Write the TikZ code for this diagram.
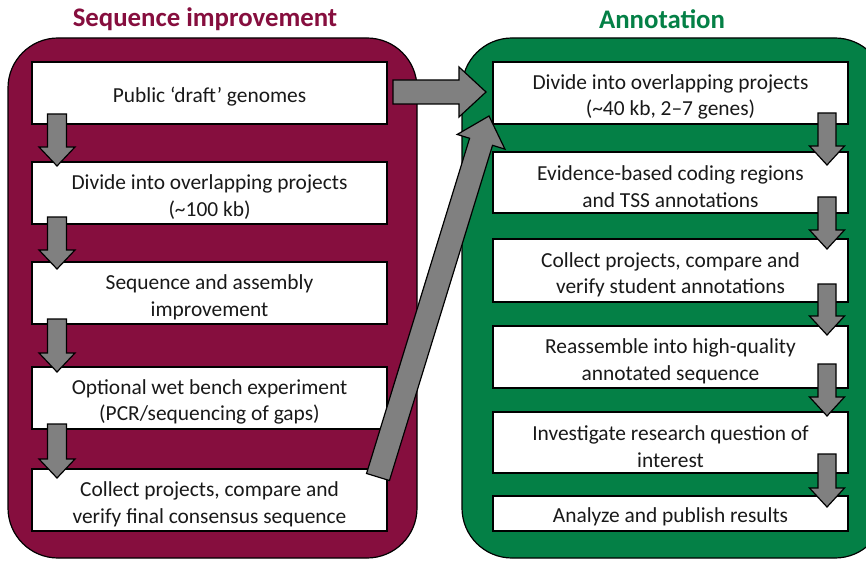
\documentclass[tikz,border=0pt]{standalone}
\usepackage{fontspec}
\setmainfont{Carlito}
\usetikzlibrary{calc}

\definecolor{seqred}{RGB}{134,14,62}
\definecolor{annogreen}{RGB}{4,128,70}
\definecolor{arrowgray}{RGB}{128,128,128}

% extra height on the first text line, to sit two-line labels a little lower
\newcommand\toproom{\rule{0pt}{23pt}}

% block arrow between two points: #1 from, #2 to, #3 half shaft width,
% #4 half head width, #5 head length
\newcommand\blockarrow[5]{%
  \coordinate (bahead) at ($(#2)!#5!(#1)$);
  \draw[blockarrow] ($(#1)!#3!90:(#2)$) -- ($(bahead)!#3!90:(#2)$)
    -- ($(bahead)!#4!90:(#2)$) -- (#2) -- ($(bahead)!#4!-90:(#2)$)
    -- ($(bahead)!#3!-90:(#2)$) -- ($(#1)!#3!-90:(#2)$) -- cycle;
}

\begin{document}
\begin{tikzpicture}[x=1pt,y=1pt,
  panel/.style={draw=black,line width=1.2pt,rounded corners=50pt},
  stepbox/.style={draw=black,fill=white,line width=2pt,minimum width=355pt,
    inner sep=0pt,align=center,font=\fontsize{21.4}{26.5}\selectfont,text=black!90},
  oneline/.style={execute at begin node={\rule{0pt}{22pt}}},
  paneltitle/.style={font=\fontsize{26.8}{30}\selectfont\bfseries},
  blockarrow/.style={draw=black,fill=arrowgray,line width=1.2pt,line join=miter}]
\useasboundingbox (0,0) rectangle (866,563);
\clip (0,0) rectangle (866,563);

% panels
\draw[panel,fill=seqred] (8,5) rectangle (417,525);
\draw[panel,fill=annogreen] (462,5) rectangle (885,525);
\node[paneltitle,text=seqred] (t1) at (205,544) {Sequence improvement};
\node[paneltitle,text=annogreen] (t2) at (662,544) {Annotation};

% sequence improvement steps
\node[stepbox,oneline,minimum height=62pt] (L1) at (209.5,470) {Public ‘draft’ genomes};
\node[stepbox,minimum height=62pt] (L2) at (209.5,370) {\toproom Divide into overlapping projects\\(\textasciitilde100 kb)};
\node[stepbox,minimum height=62pt] (L3) at (209.5,270) {\toproom Sequence and assembly\\improvement};
\node[stepbox,minimum height=62pt] (L4) at (209.5,165) {\toproom Optional wet bench experiment\\(PCR/sequencing of gaps)};
\node[stepbox,minimum height=62pt] (L5) at (209.5,63) {\toproom Collect projects, compare and\\verify final consensus sequence};

% annotation steps
\node[stepbox,minimum height=62pt] (R1) at (670.5,470) {\toproom Divide into overlapping projects\\(\textasciitilde40 kb, 2–7 genes)};
\node[stepbox,minimum height=61pt] (R2) at (670.5,380.5) {\toproom Evidence-based coding regions\\and TSS annotations};
\node[stepbox,minimum height=63pt] (R3) at (670.5,292.5) {\toproom Collect projects, compare and\\verify student annotations};
\node[stepbox,minimum height=62pt] (R4) at (670.5,206) {\toproom Reassemble into high-quality\\annotated sequence};
\node[stepbox,minimum height=61pt] (R5) at (670.5,120.5) {\toproom Investigate research question of\\interest};
\node[stepbox,oneline,minimum height=35pt] (R6) at (670.5,49.5) {Analyze and publish results};

% arrow end points
\coordinate (a1s) at ($(L1.south west)+(26,11)$);
\coordinate (a1e) at ($(L2.north west)+(26,-5)$);
\coordinate (a2s) at ($(L2.south west)+(26,8)$);
\coordinate (a2e) at ($(L3.north west)+(26,-8)$);
\coordinate (a3s) at ($(L3.south west)+(26,6)$);
\coordinate (a3e) at ($(L4.north west)+(26,-6)$);
\coordinate (a4s) at ($(L4.south west)+(26,6)$);
\coordinate (a4e) at ($(L5.north west)+(26,-10)$);

\coordinate (b1s) at ($(R1.south east)+(-22,12)$);
\coordinate (b1e) at ($(R2.north east)+(-22,-14)$);
\coordinate (b2s) at ($(R2.south east)+(-22,17)$);
\coordinate (b2e) at ($(R3.north east)+(-22,-11)$);
\coordinate (b3s) at ($(R3.south east)+(-22,19)$);
\coordinate (b3e) at ($(R4.north east)+(-22,-10)$);
\coordinate (b4s) at ($(R4.south east)+(-22,25)$);
\coordinate (b4e) at ($(R5.north east)+(-22,-5)$);
\coordinate (b5s) at ($(R5.south east)+(-22,20)$);
\coordinate (b5e) at ($(R6.north east)+(-22,-12)$);

\coordinate (hs) at ($(L1.east)+(5,1)$);
\coordinate (he) at ($(R1.west)+(-6,1)$);
\coordinate (ds) at ($(L5.north east)+(-10,-9)$);
\coordinate (de) at ($(R1.south west)+(-3,9)$);

% step arrows
\blockarrow{a1s}{a1e}{9.5pt}{18pt}{19pt}
\blockarrow{a2s}{a2e}{9.5pt}{18pt}{19pt}
\blockarrow{a3s}{a3e}{9.5pt}{18pt}{19pt}
\blockarrow{a4s}{a4e}{9.5pt}{18pt}{19pt}

\blockarrow{b1s}{b1e}{9pt}{17.5pt}{19pt}
\blockarrow{b2s}{b2e}{9pt}{17.5pt}{19pt}
\blockarrow{b3s}{b3e}{9pt}{17.5pt}{19pt}
\blockarrow{b4s}{b4e}{9pt}{17.5pt}{19pt}
\blockarrow{b5s}{b5e}{9pt}{17.5pt}{19pt}

% hand-over arrows
\blockarrow{hs}{he}{12pt}{25pt}{27pt}
\blockarrow{ds}{de}{12pt}{25pt}{27pt}
\end{tikzpicture}
\end{document}
